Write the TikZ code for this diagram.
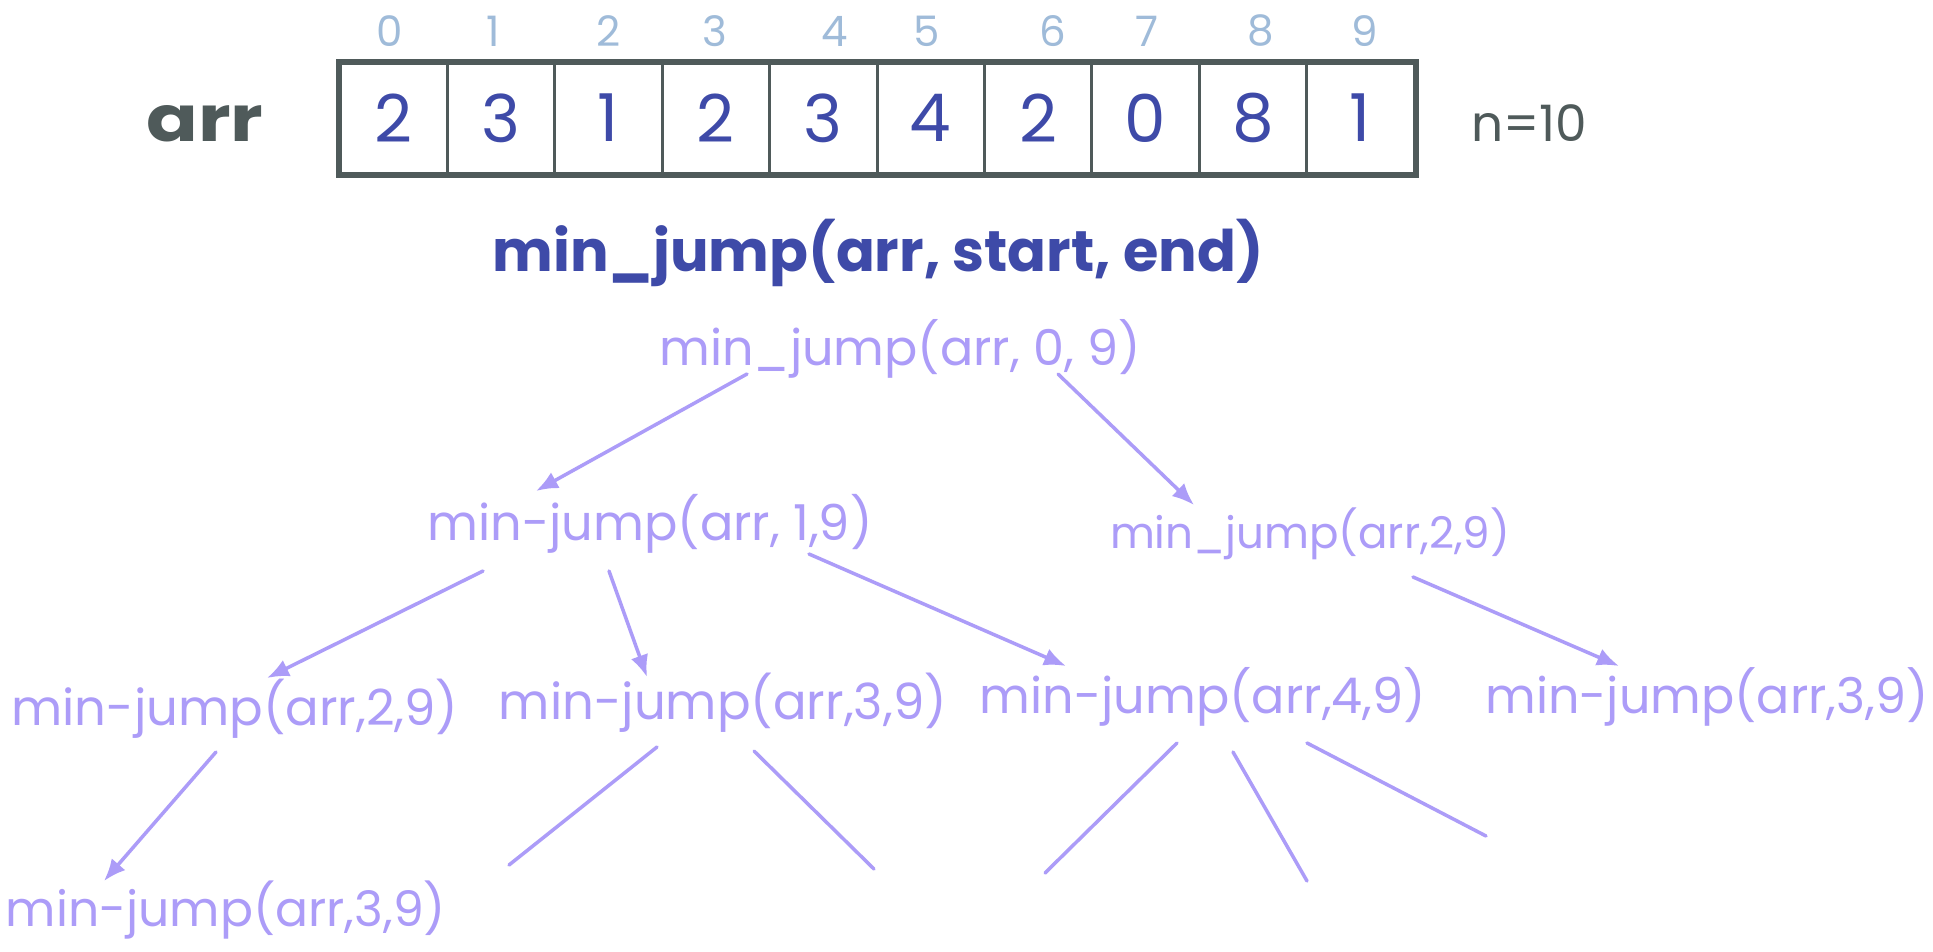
\documentclass[tikz,border=0pt]{standalone}
\usepackage{fontspec}
\setmainfont{Poppins}
\usetikzlibrary{arrows.meta}
\definecolor{treec}{HTML}{AC9CF8}
\definecolor{darkb}{HTML}{3E4AA8}
\definecolor{grayc}{HTML}{4F5A5A}
\definecolor{idxc}{HTML}{9FBBD9}
\newcommand{\fitw}[2]{\resizebox{#1}{!}{#2}}
\begin{document}
\begin{tikzpicture}[x=1pt,y=-1pt,
  tnode/.style={inner sep=0pt, text=treec, font=\fontsize{40}{40}\selectfont},
  conn/.style={draw=treec, line width=3.5pt, line cap=round},
  arrowc/.style={conn, -{Latex[length=22pt,width=18pt]}},
  cell/.style={draw=grayc, line width=3pt, minimum width=107.4pt, minimum height=110pt,
    inner sep=0pt, text=darkb, font=\fontsize{66}{66}\selectfont},
  idx/.style={text=idxc, font=\fontsize{42}{42}\selectfont, inner sep=0pt}]
\useasboundingbox[fill=white] (0,0) rectangle (1933,951);

% array
\foreach \v [count=\i from 0] in {2,3,1,2,3,4,2,0,8,1}
  \node[cell] (c\i) at ({393.7+107.4*\i},118) {\v};
\draw[grayc, line width=6pt] (c0.north west) rectangle (c9.south east);

% indices
\foreach \xx [count=\i from 0] in {390,493,609,715,835,927,1053,1147,1261,1365}
  \node[idx] (i\i) at (\xx,31) {\i};

\node[text=grayc, inner sep=0pt, font=\fontsize{60}{60}\selectfont\bfseries] (arrlbl) at (205,124) {\resizebox{117pt}{36pt}{arr}};
\node[text=grayc, inner sep=0pt, font=\fontsize{40}{40}\selectfont] (nlbl) at (1529,123) {\fitw{116pt}{n=10}};
\node[text=darkb, inner sep=0pt, font=\fontsize{50}{50}\selectfont\bfseries] (title) at (878,253) {\fitw{771pt}{min\_jump(arr, start, end)}};

% tree
\node[tnode] (root) at (900,349) {\fitw{481pt}{min\_jump(arr, 0, 9)}};
\node[tnode] (l1a) at (650,524) {\fitw{445pt}{min-jump(arr, 1,9)}};
\node[tnode] (l1b) at (1310,534) {\fitw{400pt}{min\_jump(arr,2,9)}};
\node[tnode] (l2a) at (235,709) {\fitw{447pt}{min-jump(arr,2,9)}};
\node[tnode] (l2b) at (723,703) {\fitw{448pt}{min-jump(arr,3,9)}};
\node[tnode] (l2c) at (1203,697) {\fitw{446pt}{min-jump(arr,4,9)}};
\node[tnode] (l2d) at (1707,697) {\fitw{443pt}{min-jump(arr,3,9)}};
\node[tnode] (l3) at (226,910) {\fitw{440pt}{min-jump(arr,3,9)}};

\draw[arrowc] ([shift={(-153,25)}]root.center) -- ([shift={(-114,-33)}]l1a.center);
\draw[arrowc] ([shift={(158,25)}]root.center) -- ([shift={(-116,-29)}]l1b.center);
\draw[arrowc] ([shift={(-167,47)}]l1a.center) -- ([shift={(32,-31)}]l2a.center);
\draw[arrowc] ([shift={(-41,47)}]l1a.center) -- ([shift={(-76,-26)}]l2b.center);
\draw[arrowc] ([shift={(159,30)}]l1a.center) -- ([shift={(-137,-31)}]l2c.center);
\draw[arrowc] ([shift={(103,43)}]l1b.center) -- ([shift={(-88,-31)}]l2d.center);
\draw[arrowc] ([shift={(-19,43)}]l2a.center) -- ([shift={(-122,-29)}]l3.center);

\coordinate (e1) at (509,865);
\coordinate (e2) at (874,869);
\coordinate (e3) at (1045,873);
\coordinate (e4) at (1307,881);
\coordinate (e5) at (1486,836);
\draw[conn] ([shift={(-66,44)}]l2b.center) -- (e1);
\draw[conn] ([shift={(31,48)}]l2b.center) -- (e2);
\draw[conn] ([shift={(-26,46)}]l2c.center) -- (e3);
\draw[conn] ([shift={(30,55)}]l2c.center) -- (e4);
\draw[conn] ([shift={(104,46)}]l2c.center) -- (e5);
\end{tikzpicture}
\end{document}
